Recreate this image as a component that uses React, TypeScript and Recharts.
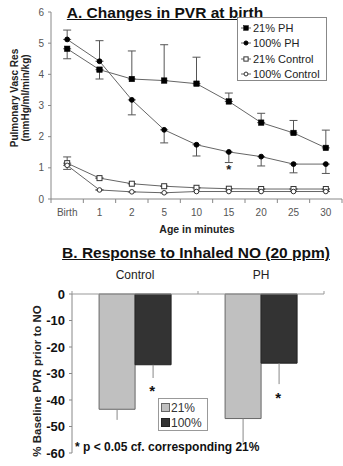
import React from 'react';
import { LineChart, Line, XAxis, YAxis, ErrorBar, ReferenceDot, BarChart, Bar, LabelList } from 'recharts';

const FONT = '"Liberation Sans", Arial, Helvetica, sans-serif';

// ---------- Panel A data ----------
const ageCategories = ['Birth', '1', '2', '5', '10', '15', '20', '25', '30'];
const ph21 = [4.82, 4.15, 3.85, 3.8, 3.7, 3.13, 2.45, 2.12, 1.64];
const ph21ErrDown = [0.32, 0.3, 0, 0, 0, 0, 0, 0, 0];
const ph21ErrUp = [0, 0, 0.9, 1.15, 0.85, 0.27, 0.3, 0.4, 0.57];
const ph100 = [5.12, 4.42, 3.18, 2.22, 1.74, 1.51, 1.36, 1.12, 1.12];
const ph100ErrDown = [0, 0, 0.48, 0.42, 0.36, 0.34, 0.3, 0.28, 0.3];
const ph100ErrUp = [0.3, 0.66, 0, 0, 0, 0, 0, 0, 0];
const ctl21 = [1.15, 0.67, 0.49, 0.41, 0.36, 0.33, 0.32, 0.32, 0.32];
const ctl21ErrDown = [0, 0, 0, 0, 0, 0, 0, 0, 0];
const ctl21ErrUp = [0.2, 0, 0, 0, 0, 0, 0, 0, 0];
const ctl100 = [1.08, 0.29, 0.23, 0.2, 0.24, 0.24, 0.24, 0.24, 0.24];
const ctl100ErrDown = [0.13, 0, 0, 0, 0, 0, 0, 0, 0];
const ctl100ErrUp = [0, 0, 0, 0, 0, 0, 0, 0, 0];
const pvrTicks = [0, 1, 2, 3, 4, 5, 6];
const sigAge = '15';
const sigPvr = 1.02;

const lineSeries = [
  { key: 'ph21', name: '21% PH', shape: 'square', filled: true },
  { key: 'ph100', name: '100% PH', shape: 'circle', filled: true },
  { key: 'ctl21', name: '21% Control', shape: 'square', filled: false },
  { key: 'ctl100', name: '100% Control', shape: 'circle', filled: false },
];

const lineData = ageCategories.map((age, i) => ({
  age,
  ph21: ph21[i],
  ph21Err: [ph21ErrDown[i], ph21ErrUp[i]],
  ph100: ph100[i],
  ph100Err: [ph100ErrDown[i], ph100ErrUp[i]],
  ctl21: ctl21[i],
  ctl21Err: [ctl21ErrDown[i], ctl21ErrUp[i]],
  ctl100: ctl100[i],
  ctl100Err: [ctl100ErrDown[i], ctl100ErrUp[i]],
}));

// ---------- Panel B data ----------
const noGroups = ['Control', 'PH'];
const o2Low = [-43.5, -47];
const o2LowErrDown = [4, 9];
const o2High = [-26.7, -26.1];
const o2HighErrDown = [5, 7.9];
const o2HighStar = [-35.6, -38.3];
const pctTicks = [0, -10, -20, -30, -40, -50, -60];
const barSeries = [
  { key: 'o21', name: '21%', fill: '#c0c0c0', stroke: '#666' },
  { key: 'o100', name: '100%', fill: '#333333', stroke: '#222' },
];

const barData = noGroups.map((g, i) => ({
  group: g,
  o21: o2Low[i],
  o21Err: [o2LowErrDown[i], 0],
  o100: o2High[i],
  o100Err: [o2HighErrDown[i], 0],
}));

// ---------- helpers ----------
const Marker = ({ cx, cy, shape, filled, size = 1 }: any) => {
  if (cx == null || cy == null) return null;
  const fill = filled ? '#000' : '#fff';
  const stroke = filled ? '#000' : '#333';
  if (shape === 'square') {
    const s = (filled ? 5.5 : 5) * size;
    return <rect x={cx - s / 2} y={cy - s / 2} width={s} height={s} fill={fill} stroke={stroke} strokeWidth={filled ? 0.5 : 1} />;
  }
  const r = (filled ? 2.4 : 2.3) * size;
  return <circle cx={cx} cy={cy} r={r} fill={fill} stroke={stroke} strokeWidth={1} />;
};

const A_TICK_SIZE = 4;
const A_TICK_MARGIN = 6;

const AgeTick = (props: any) => {
  const { x, y, payload, index } = props;
  const off = payload && payload.offset ? payload.offset : 0;
  const axisY = y - A_TICK_SIZE - A_TICK_MARGIN;
  const isLast = index === ageCategories.length - 1;
  return (
    <g>
      <line x1={x - off} x2={x - off} y1={axisY} y2={axisY + 4} stroke="#888" />
      {isLast && <line x1={x + off} x2={x + off} y1={axisY} y2={axisY + 4} stroke="#888" />}
      <text x={x} y={y} dy="0.71em" textAnchor="middle" fontSize={10} fill="#555" fontFamily={FONT}>
        {payload.value}
      </text>
    </g>
  );
};

const B_TICK_SIZE = 3;
const B_TICK_MARGIN = 12;

const GroupTick = (props: any) => {
  const { x, y, payload, index } = props;
  const off = payload && payload.offset ? payload.offset : 0;
  const axisY = y + B_TICK_SIZE + B_TICK_MARGIN;
  const isLast = index === noGroups.length - 1;
  return (
    <g>
      <line x1={x - off} x2={x - off} y1={axisY} y2={axisY - 3} stroke="#999" />
      {isLast && <line x1={x + off} x2={x + off} y1={axisY} y2={axisY - 3} stroke="#999" />}
      <text x={x} y={y} textAnchor="middle" fontSize={12} fill="#222" fontFamily={FONT}>
        {payload.value}
      </text>
    </g>
  );
};

const StarLabel = (props: any) => {
  const { x, y, width, height, index } = props;
  const top = Math.min(y, y + height);
  const bottom = Math.max(y, y + height);
  const v = Math.abs(o2High[index]);
  const ratio = (bottom - top) / v;
  const py = top + Math.abs(o2HighStar[index]) * ratio;
  return (
    <text x={x + width / 2 - 1} y={py + 8} textAnchor="middle" fontSize={15} fontWeight="bold" fill="#111" fontFamily={FONT}>
      *
    </text>
  );
};

const Abs = ({ left, top, style, children }: any) => (
  <div style={{ position: 'absolute', left, top, fontFamily: FONT, whiteSpace: 'nowrap', ...style }}>{children}</div>
);

const Rot = ({ cx, cy, style, children }: any) => (
  <div
    style={{
      position: 'absolute',
      left: cx,
      top: cy,
      transform: 'translate(-50%, -50%) rotate(-90deg)',
      fontFamily: FONT,
      whiteSpace: 'nowrap',
      ...style,
    }}
  >
    {children}
  </div>
);

export default function App() {
  return (
    <div style={{ position: 'absolute', left: 0, top: 0, width: 343, height: 466, background: '#fff', overflow: 'hidden' }}>
      {/* Panel A */}
      <div style={{ position: 'absolute', left: 0, top: 0, width: 343, height: 240, overflow: 'hidden' }}>
        <LineChart width={343} height={240} data={lineData} margin={{ top: 12, right: 1, bottom: 11, left: 0 }}>
          <XAxis
            dataKey="age"
            type="category"
            scale="band"
            height={30}
            interval={0}
            tickLine={false}
            tickSize={A_TICK_SIZE}
            tickMargin={A_TICK_MARGIN}
            tick={<AgeTick />}
            axisLine={{ stroke: '#888' }}
          />
          <YAxis
            type="number"
            domain={[0, 6]}
            ticks={pvrTicks}
            interval={0}
            width={51}
            tickSize={3}
            tickMargin={4}
            axisLine={{ stroke: '#888' }}
            tickLine={{ stroke: '#888' }}
            tick={{ fontSize: 10, fill: '#555', fontFamily: FONT }}
          />
          {lineSeries.map((s) => (
            <Line
              key={s.key}
              dataKey={s.key}
              name={s.name}
              stroke="#666"
              strokeWidth={1}
              isAnimationActive={false}
              dot={(p: any) => <Marker key={`${s.key}-${p.index}`} cx={p.cx} cy={p.cy} shape={s.shape} filled={s.filled} />}
              activeDot={false}
            >
              <ErrorBar dataKey={`${s.key}Err`} direction="y" width={4} stroke="#555" strokeWidth={1} />
            </Line>
          ))}
          <ReferenceDot
            x={sigAge}
            y={sigPvr}
            r={0}
            isFront
            shape={(p: any) => (
              <text x={p.cx} y={p.cy + 7} textAnchor="middle" fontSize={13} fontWeight="bold" fill="#222" fontFamily={FONT}>
                *
              </text>
            )}
          />
        </LineChart>
      </div>

      <Abs left={0} top={4} style={{ width: 330, textAlign: 'center', fontSize: 15.5, fontWeight: 'bold', textDecoration: 'underline', color: '#111' }}>
        A. Changes in PVR at birth
      </Abs>

      {/* Legend A */}
      <div
        style={{
          position: 'absolute',
          left: 237,
          top: 17,
          width: 90,
          height: 64,
          border: '1px solid #888',
          background: '#fff',
          boxSizing: 'border-box',
        }}
      >
        {lineSeries.map((s, i) => (
          <div key={s.key} style={{ position: 'absolute', left: 2, top: 3 + i * 15.3, height: 14, display: 'flex', alignItems: 'center' }}>
            <svg width={12} height={10} style={{ marginRight: 1 }}>
              <line x1={1} x2={11} y1={5} y2={5} stroke="#666" />
              <Marker cx={6} cy={5} shape={s.shape} filled={s.filled} size={0.85} />
            </svg>
            <span style={{ fontFamily: FONT, fontSize: 11, color: '#222', whiteSpace: 'nowrap' }}>{s.name}</span>
          </div>
        ))}
      </div>

      <Rot cx={14} cy={98} style={{ fontSize: 10, fontWeight: 'bold', color: '#222' }}>
        Pulmonary Vasc Res
      </Rot>
      <Rot cx={25} cy={98} style={{ fontSize: 10, fontWeight: 'bold', color: '#222' }}>
        (mmHg/ml/min/kg)
      </Rot>
      <Abs left={0} top={223} style={{ width: 394, textAlign: 'center', fontSize: 10.5, fontWeight: 'bold', color: '#222' }}>
        Age in minutes
      </Abs>

      {/* Panel B */}
      <Abs left={0} top={244} style={{ width: 392, textAlign: 'center', fontSize: 15.5, fontWeight: 'bold', textDecoration: 'underline', color: '#111' }}>
        B. Response to Inhaled NO (20 ppm)
      </Abs>

      <div style={{ position: 'absolute', left: 0, top: 250, width: 343, height: 216 }}>
        <BarChart
          width={343}
          height={216}
          data={barData}
          margin={{ top: 14, right: 19, bottom: 13, left: 0 }}
          barGap={0}
          barCategoryGap="21.5%"
        >
          <XAxis
            dataKey="group"
            orientation="top"
            height={30}
            interval={0}
            tickLine={false}
            tickSize={B_TICK_SIZE}
            tickMargin={B_TICK_MARGIN}
            tick={<GroupTick />}
            axisLine={{ stroke: '#999' }}
          />
          <YAxis
            type="number"
            domain={[-60, 0]}
            ticks={pctTicks}
            interval={0}
            width={72}
            tickSize={3}
            tickMargin={4}
            axisLine={{ stroke: '#888' }}
            tickLine={{ stroke: '#888' }}
            tick={{ fontSize: 13, fontWeight: 'bold', fill: '#111', fontFamily: FONT }}
          />
          {barSeries.map((s) => (
            <Bar key={s.key} dataKey={s.key} name={s.name} fill={s.fill} stroke={s.stroke} strokeWidth={1} isAnimationActive={false}>
              <ErrorBar dataKey={`${s.key}Err`} direction="y" width={0} stroke="#888" strokeWidth={1} />
              {s.key === 'o100' && <LabelList dataKey="o100" content={<StarLabel />} />}
            </Bar>
          ))}
        </BarChart>
      </div>

      <Rot cx={37} cy={381} style={{ fontSize: 11.5, fontWeight: 'bold', color: '#222' }}>
        % Baseline PVR prior to NO
      </Rot>

      {/* Legend B */}
      <div
        style={{
          position: 'absolute',
          left: 158,
          top: 398,
          width: 50,
          height: 33,
          border: '1px solid #999',
          background: '#fff',
          boxSizing: 'border-box',
        }}
      >
        {barSeries.map((s, i) => (
          <div key={s.key} style={{ position: 'absolute', left: 2, top: 1 + i * 15, height: 15, display: 'flex', alignItems: 'center' }}>
            <div style={{ width: 7, height: 7, background: s.fill, border: `1px solid ${s.stroke}`, marginRight: 1 }} />
            <span style={{ fontFamily: FONT, fontSize: 12, color: '#333' }}>{s.name}</span>
          </div>
        ))}
      </div>

      <Abs left={75} top={440} style={{ fontSize: 12, fontWeight: 'bold', color: '#111' }}>
        * p &lt; 0.05 cf. corresponding 21%
      </Abs>
    </div>
  );
}
